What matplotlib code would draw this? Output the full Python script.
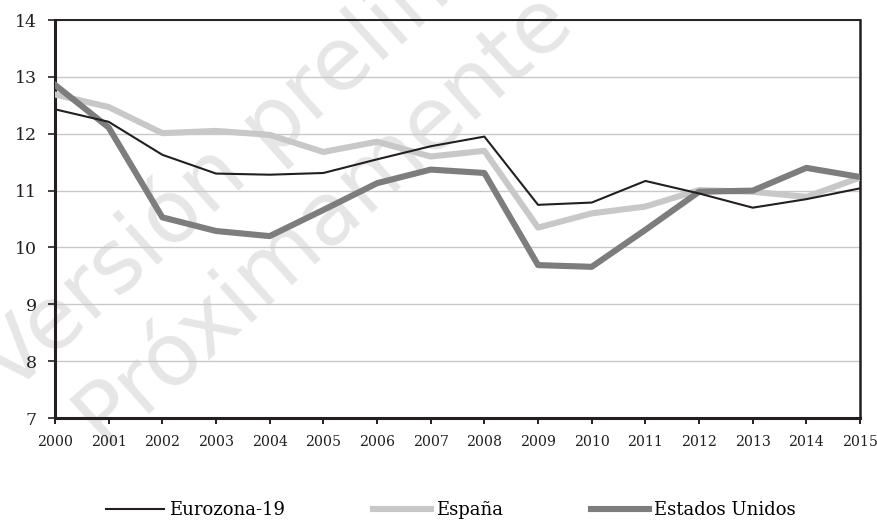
import matplotlib
matplotlib.use('Agg')
import matplotlib.pyplot as plt

# Datos
anios = list(range(2000, 2016))
eurozona = [12.43, 12.21, 11.63, 11.30, 11.28, 11.31, 11.55, 11.78, 11.95,
            10.75, 10.79, 11.17, 10.95, 10.70, 10.85, 11.04]
espana = [12.69, 12.47, 12.01, 12.05, 11.98, 11.68, 11.86, 11.60, 11.70,
          10.35, 10.60, 10.72, 11.01, 10.98, 10.89, 11.23]
eeuu = [12.86, 12.11, 10.53, 10.29, 10.20, 10.66, 11.13, 11.37, 11.31,
        9.69, 9.66, 10.31, 10.98, 11.00, 11.40, 11.24]
etiquetas = ["Eurozona-19", "España", "Estados Unidos"]

plt.rcParams['font.family'] = ['DejaVu Serif']

fig = plt.figure(figsize=(8.77, 5.2), dpi=100)
ax = fig.add_axes([0.0627, 0.196, 0.918, 0.7655])

# Marca de agua (detrás de todo)
marca = dict(color='#e6e6e6', fontsize=63, family='DejaVu Sans', rotation=42,
             rotation_mode='anchor', ha='left', va='baseline', zorder=-5)
fig.text(0.012, 0.24, "Versión preliminar", **marca)
fig.text(0.118, 0.14, "Próximamente", **marca)
ax.patch.set_alpha(0)

ax.plot(anios, eurozona, color='#231f20', lw=1.5, label=etiquetas[0], zorder=5)
ax.plot(anios, espana, color='#c8c8c8', lw=4.4, label=etiquetas[1], zorder=3)
ax.plot(anios, eeuu, color='#7d7d7e', lw=4.4, label=etiquetas[2], zorder=4)

ax.set_xlim(2000, 2015)
ax.set_ylim(7, 14)
ax.set_xticks(anios)
ax.set_yticks(range(7, 15))
ax.grid(axis='y', color='#c8c8c8', lw=1, zorder=1)

for lado in ['left', 'bottom']:
    ax.spines[lado].set_linewidth(2.2)
    ax.spines[lado].set_color('#231f20')
ax.spines['right'].set_linewidth(1.8)
ax.spines['right'].set_color('#231f20')
ax.spines['top'].set_linewidth(1.4)
ax.spines['top'].set_color('#231f20')

ax.tick_params(axis='y', labelsize=12.5, length=5, width=1.2, pad=8, colors='#231f20')
ax.tick_params(axis='x', labelsize=10.2, length=4.5, width=1.4, pad=8,
               direction='out', colors='#231f20')

fig.legend(loc='lower center', bbox_to_anchor=(0.514, -0.03), ncol=3, frameon=False,
           fontsize=13, handlelength=3.2, handletextpad=0.28, columnspacing=4.9)

plt.savefig('out.png', dpi=100)
